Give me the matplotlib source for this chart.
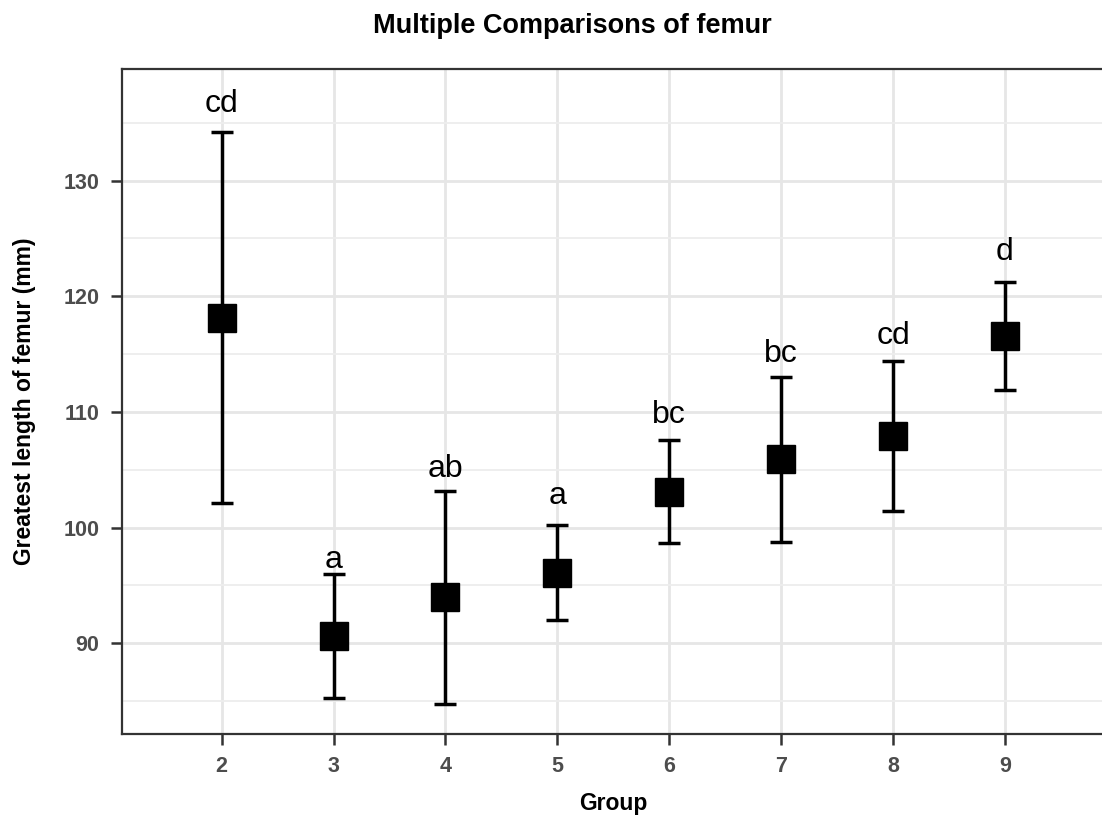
import numpy as np
import matplotlib
matplotlib.use("Agg")
import matplotlib.pyplot as plt

# values
groups = [2, 3, 4, 5, 6, 7, 8, 9]
means = [118.15, 90.63, 93.98, 96.10, 103.11, 105.90, 107.94, 116.60]
sds = [16.02, 5.32, 9.23, 4.10, 4.43, 7.13, 6.50, 4.67]
letters = ["cd", "a", "ab", "a", "bc", "bc", "cd", "d"]
letter_y = [135.97, 96.54, 104.36, 102.05, 109.08, 114.32, 115.85, 123.17]

plt.rcParams['font.family'] = ['Liberation Sans', 'DejaVu Sans']

fig = plt.figure(figsize=(11.02, 8.19), dpi=100)
ax = fig.add_axes([0.1104, 0.1038, 0.8923, 0.8116])

ax.set_xlim(2 - 0.894, 9 + 0.894)
ax.set_ylim(82.16, 139.63)

# grid like theme_bw
ax.set_yticks([90, 100, 110, 120, 130])
ax.set_yticks([85, 95, 105, 115, 125, 135], minor=True)
ax.set_xticks(groups)
ax.grid(True, which='major', color='#e6e6e6', linewidth=2.0)
ax.grid(True, which='minor', axis='y', color='#ededed', linewidth=1.3)
ax.set_axisbelow(True)
ax.tick_params(which='minor', length=0)

ax.errorbar(groups, means, yerr=sds, fmt='s', color='black', ecolor='black',
            markersize=20, elinewidth=2.5, capsize=8, capthick=2.5, zorder=3)

for g, lab, ly in zip(groups, letters, letter_y):
    ax.text(g, ly, lab, ha='center', va='baseline', fontsize=23, color='black')

for sp in ax.spines.values():
    sp.set_color('#333333')
    sp.set_linewidth(1.6)

ax.tick_params(which='major', length=8, width=1.8, color='#333333',
               labelcolor='#4d4d4d', labelsize=15.5, pad=8)
for lab in ax.get_xticklabels() + ax.get_yticklabels():
    lab.set_fontweight('bold')

fig.text(613.5 / 1102, 1 - 810 / 819, 'Group', ha='center', va='baseline',
         fontsize=16.5, fontweight='bold')
fig.text(25 / 1102, 1 - 401 / 819, 'Greatest length of femur (mm)', ha='center',
         va='center', rotation=90, fontsize=16.5, fontweight='bold')
fig.text(572.5 / 1102, 1 - 33 / 819, 'Multiple Comparisons of femur', ha='center',
         va='baseline', fontsize=19.5, fontweight='bold')

fig.savefig('out.png', dpi=100, facecolor='white')
